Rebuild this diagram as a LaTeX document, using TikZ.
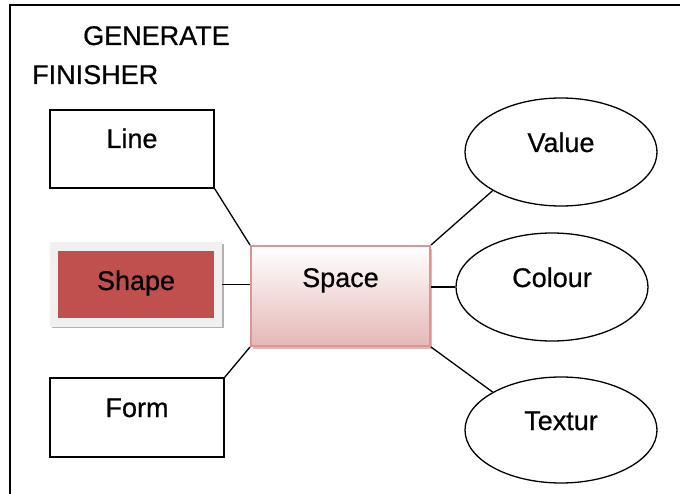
\documentclass[tikz,border=0pt]{standalone}
\usepackage{fontspec}
\setmainfont{Liberation Sans}[FakeBold=0.6]
\usepackage{tikz}
\usetikzlibrary{shapes.geometric}
\definecolor{shapered}{RGB}{192,80,77}
\definecolor{spaceedge}{RGB}{217,150,148}
\definecolor{spacebot}{RGB}{229,184,183}

\begin{document}
\begin{tikzpicture}[x=1pt, y=-1pt,
	every node/.style={font=\fontsize{27}{31}\selectfont, inner sep=0pt},
	plainbox/.style={draw, line width=1.3pt, rectangle},
	bubble/.style={draw, line width=1.3pt, ellipse, minimum width=192pt,
		minimum height=108pt, text height=20pt, text depth=20pt},
	link/.style={line width=1.3pt}]
		%%%%% START %%%%%
		\useasboundingbox (0, 0) rectangle (680, 494);
		
		% frame
		\draw[line width=2pt] (10, 494) -- (10, 5) -- (680, 5);
		
		\node[anchor=base west] (title1) at (83, 45) {GENERATE};
		\node[anchor=base west] (title2) at (32, 84) {FINISHER};
		
		% left column
		\node[plainbox, minimum width=164pt, text height=38pt, text depth=40pt] (line) at (132, 149) {Line};
		\node[plainbox, minimum width=174pt, text height=39pt, text depth=40pt] (form) at (137, 417.5) {Form};
		
		\fill[black!30] (52, 244) rectangle (223.5, 328.5);
		\node[fill=black!6, minimum width=172pt, minimum height=85pt] (shapebox) at (136, 284.5) {};
		\node[fill=shapered, minimum width=156pt, text height=39pt, text depth=28pt] (shape) at (136, 284.5) {Shape};
		
		% centre
		\fill[spaceedge!80!black, opacity=0.5] (253, 249) rectangle (432, 349);
		\node[draw=spaceedge, line width=2pt, top color=white, bottom color=spacebot,
			minimum width=179pt, text height=41pt, text depth=59pt] (space) at (340.5, 296) {Space};
		
		% right column
		\node[bubble] (value) at (561, 152) {Value};
		\node[bubble] (colour) at (552, 287) {Colour};
		\node[bubble, minimum height=106pt] (textur) at (561, 430) {Textur};
		
		% connectors
		\draw[link] (line.south east) -- (space.north west);
		\draw[link] (shapebox.east) -- (space.west |- shapebox.east);
		\draw[link] (form.north east) -- (space.south west);
		\draw[link] (value.south west) -- (space.north east);
		\draw[link] (colour.west) -- (space.east |- colour.west);
		\draw[link] (textur.north west) -- (space.south east);
		
		%%%%% END %%%%%
\end{tikzpicture}
\end{document}
